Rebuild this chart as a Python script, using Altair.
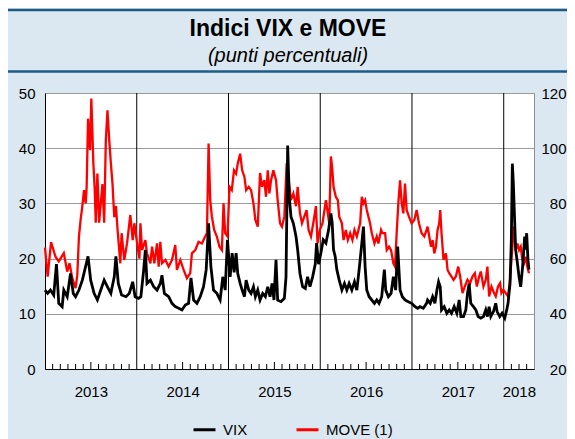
import altair as alt
import pandas as pd

# ---- data (decimal years, index values) ----
vix_t = [
    2013.000, 2013.029, 2013.059, 2013.095, 2013.125, 2013.150, 2013.187, 2013.205, 2013.242, 2013.278,
    2013.308, 2013.333, 2013.370, 2013.407, 2013.443, 2013.469, 2013.498, 2013.535, 2013.571, 2013.608,
    2013.645, 2013.681, 2013.718, 2013.755, 2013.773, 2013.799, 2013.835, 2013.883, 2013.919, 2013.956,
    2013.982,
    2014.020, 2014.045, 2014.076, 2014.094, 2014.112, 2014.149, 2014.185, 2014.221, 2014.257, 2014.275,
    2014.301, 2014.348, 2014.384, 2014.420, 2014.457, 2014.493, 2014.529, 2014.565, 2014.591, 2014.620,
    2014.656, 2014.692, 2014.728, 2014.757, 2014.783, 2014.808, 2014.837, 2014.873, 2014.909, 2014.938,
    2014.964, 2014.989,
    2015.018, 2015.040, 2015.062, 2015.083, 2015.101, 2015.127, 2015.149, 2015.174, 2015.192, 2015.221,
    2015.246, 2015.272, 2015.293, 2015.319, 2015.344, 2015.373, 2015.402, 2015.428, 2015.453, 2015.475,
    2015.496, 2015.518, 2015.536, 2015.572, 2015.609, 2015.627, 2015.645, 2015.663, 2015.681, 2015.707,
    2015.736, 2015.754, 2015.779, 2015.808, 2015.837, 2015.862, 2015.888, 2015.917, 2015.946, 2015.960,
    2015.982,
    2016.007, 2016.033, 2016.062, 2016.091, 2016.116, 2016.130, 2016.145, 2016.163, 2016.181, 2016.207,
    2016.236, 2016.264, 2016.290, 2016.315, 2016.344, 2016.373, 2016.399, 2016.424, 2016.446, 2016.471,
    2016.489, 2016.507, 2016.533, 2016.562, 2016.591, 2016.616, 2016.641, 2016.670, 2016.699, 2016.714,
    2016.743, 2016.772, 2016.797, 2016.822, 2016.844, 2016.870, 2016.895, 2016.924, 2016.960, 2016.996,
    2017.033, 2017.062, 2017.087, 2017.123, 2017.159, 2017.170, 2017.199, 2017.225, 2017.250, 2017.272,
    2017.290, 2017.308, 2017.322, 2017.351, 2017.380, 2017.406, 2017.431, 2017.460, 2017.489, 2017.514,
    2017.533, 2017.562, 2017.587, 2017.605, 2017.623, 2017.641, 2017.670, 2017.696, 2017.721, 2017.750,
    2017.779, 2017.804, 2017.822, 2017.841, 2017.859, 2017.888, 2017.913, 2017.928, 2017.957, 2017.982,
    2018.011, 2018.033, 2018.047, 2018.069, 2018.083, 2018.094, 2018.105, 2018.120, 2018.130, 2018.149,
    2018.167, 2018.185, 2018.203, 2018.214, 2018.228, 2018.239, 2018.250, 2018.264, 2018.275,
]
vix_v = [
    14.3, 13.7, 14.3, 13.4, 19.0, 11.9, 11.3, 14.3, 13.1, 17.3,
    13.7, 13.1, 14.3, 16.1, 18.6, 20.4, 16.1, 13.7, 12.5, 14.3,
    16.1, 14.9, 13.7, 16.7, 20.4, 15.5, 13.4, 13.1, 13.7, 15.8,
    13.1,
    12.8, 13.1, 18.0, 21.6, 15.5, 16.1, 14.9, 14.3, 15.5, 17.0,
    13.7, 13.1, 11.9, 11.3, 11.0, 10.7, 11.6, 11.9, 16.5, 12.5,
    11.9, 13.1, 14.9, 18.0, 26.4, 18.6, 14.3, 13.7, 12.5, 16.7,
    14.3, 23.4,
    16.7, 21.0, 17.5, 21.0, 17.3, 15.5, 14.3, 13.1, 16.1, 14.3,
    13.7, 14.9, 13.1, 14.3, 12.5, 13.7, 13.1, 14.9, 13.1, 15.5,
    12.5, 19.8, 12.5, 12.2, 12.8, 16.7, 40.5, 31.0, 27.6, 26.4,
    24.0, 21.6, 17.3, 14.9, 14.6, 16.7, 14.9, 16.7, 19.0, 22.8,
    19.0,
    21.0, 23.4, 22.8, 25.2, 28.2, 26.5, 21.6, 20.4, 18.0, 16.1,
    14.3, 15.5, 14.3, 15.5, 14.3, 15.8, 14.3, 18.0, 21.6, 25.8,
    18.6, 14.3, 13.1, 12.5, 11.9, 12.5, 11.9, 13.1, 18.0, 14.3,
    13.1, 13.7, 16.7, 14.3, 22.2, 14.3, 13.1, 12.5, 12.2, 11.9,
    11.3, 11.0, 11.3, 11.0, 11.9, 12.5, 11.9, 13.1, 11.9, 14.3,
    15.8, 14.9, 10.7, 11.3, 10.1, 10.7, 10.1, 11.3, 10.1, 12.5,
    9.5, 9.5, 10.7, 13.7, 15.5, 11.9, 11.3, 10.7, 9.5, 9.2,
    9.5, 10.7, 9.5, 11.3, 9.5, 10.4, 11.9, 10.4, 9.5, 10.1,
    9.2, 10.7, 11.9, 15.5, 23.4, 37.2, 33.6, 26.4, 21.6, 19.2,
    16.7, 14.9, 18.0, 20.4, 24.0, 21.6, 24.6, 19.8, 18.0,
]

move_t = [
    2013.000, 2013.029, 2013.066, 2013.114, 2013.150, 2013.205, 2013.242, 2013.267, 2013.297, 2013.333,
    2013.352, 2013.370, 2013.388, 2013.407, 2013.425, 2013.443, 2013.454, 2013.469, 2013.491, 2013.505,
    2013.527, 2013.542, 2013.553, 2013.571, 2013.590, 2013.608, 2013.626, 2013.645, 2013.663, 2013.681,
    2013.700, 2013.718, 2013.736, 2013.755, 2013.773, 2013.791, 2013.821, 2013.835, 2013.864, 2013.894,
    2013.930, 2013.956, 2013.974,
    2014.004, 2014.029, 2014.040, 2014.058, 2014.094, 2014.112, 2014.149, 2014.167, 2014.192, 2014.221,
    2014.239, 2014.257, 2014.275, 2014.312, 2014.348, 2014.384, 2014.420, 2014.438, 2014.475, 2014.511,
    2014.547, 2014.583, 2014.601, 2014.638, 2014.674, 2014.710, 2014.746, 2014.765, 2014.783, 2014.801,
    2014.819, 2014.844, 2014.873, 2014.902, 2014.928, 2014.946, 2014.964, 2014.989,
    2015.011, 2015.036, 2015.060, 2015.083, 2015.101, 2015.127, 2015.149, 2015.174, 2015.192, 2015.221,
    2015.246, 2015.272, 2015.293, 2015.319, 2015.344, 2015.366, 2015.391, 2015.409, 2015.428, 2015.446,
    2015.464, 2015.489, 2015.518, 2015.536, 2015.562, 2015.583, 2015.609, 2015.634, 2015.656, 2015.681,
    2015.707, 2015.736, 2015.754, 2015.779, 2015.801, 2015.826, 2015.851, 2015.873, 2015.899, 2015.924,
    2015.953, 2015.971, 2015.996,
    2016.025, 2016.062, 2016.098, 2016.116, 2016.130, 2016.145, 2016.170, 2016.192, 2016.207, 2016.236,
    2016.254, 2016.279, 2016.301, 2016.326, 2016.351, 2016.373, 2016.399, 2016.417, 2016.435, 2016.453,
    2016.471, 2016.489, 2016.507, 2016.525, 2016.543, 2016.562, 2016.591, 2016.616, 2016.634, 2016.663,
    2016.678, 2016.707, 2016.725, 2016.750, 2016.772, 2016.797, 2016.815, 2016.833, 2016.851, 2016.870,
    2016.888, 2016.906, 2016.924, 2016.942, 2016.967, 2016.996,
    2017.025, 2017.051, 2017.076, 2017.105, 2017.134, 2017.159, 2017.170, 2017.188, 2017.207, 2017.225,
    2017.243, 2017.261, 2017.279, 2017.297, 2017.308, 2017.322, 2017.344, 2017.370, 2017.388, 2017.406,
    2017.431, 2017.453, 2017.478, 2017.504, 2017.525, 2017.551, 2017.576, 2017.605, 2017.634, 2017.659,
    2017.685, 2017.707, 2017.732, 2017.750, 2017.779, 2017.804, 2017.822, 2017.841, 2017.866, 2017.895,
    2017.913, 2017.938, 2017.960, 2017.975, 2017.996,
    2018.022, 2018.047, 2018.069, 2018.094, 2018.112, 2018.130, 2018.149, 2018.167, 2018.185, 2018.203,
    2018.221, 2018.239, 2018.257, 2018.275,
]
move_v = [
    64.0, 53.5, 66.0, 60.7, 59.0, 62.0, 55.3, 58.3, 53.0, 49.3,
    54.0, 68.0, 74.0, 79.0, 84.8, 80.0, 86.0, 110.7, 99.3, 118.0,
    94.5, 85.0, 73.0, 90.8, 73.0, 80.0, 87.0, 73.0, 103.0, 113.7,
    103.0, 94.5, 87.0, 75.0, 79.0, 70.4, 58.3, 69.2, 59.5, 65.5,
    75.8, 66.7, 72.8,
    65.5, 60.0, 72.8, 63.1, 66.7, 61.9, 58.3, 64.3, 58.3, 65.5,
    57.1, 66.1, 58.3, 59.5, 57.1, 59.5, 64.9, 55.9, 59.5, 55.9,
    52.9, 54.7, 61.9, 63.1, 66.1, 65.5, 68.0, 69.2, 101.7, 81.2,
    75.2, 70.4, 68.0, 64.3, 63.1, 80.0, 69.2, 68.0,
    86.0, 84.8, 92.0, 90.8, 94.5, 98.0, 92.0, 89.6, 84.8, 86.0,
    84.8, 80.0, 74.0, 71.6, 91.0, 86.0, 88.4, 82.4, 92.0, 83.6,
    88.4, 92.0, 88.4, 81.2, 72.8, 71.6, 75.2, 94.5, 88.4, 81.2,
    83.6, 79.0, 86.0, 76.4, 72.8, 75.2, 77.6, 70.4, 68.0, 72.8,
    79.0, 65.5, 70.4,
    72.8, 81.2, 72.8, 97.0, 93.0, 86.0, 82.4, 81.2, 75.2, 72.8,
    66.7, 70.4, 66.7, 69.2, 66.7, 70.4, 68.0, 70.4, 72.8, 82.4,
    80.0, 81.2, 77.6, 75.2, 72.8, 69.2, 65.5, 68.0, 65.5, 70.4,
    69.2, 69.2, 63.1, 64.3, 63.1, 58.3, 57.1, 69.2, 80.0, 88.4,
    80.0, 76.4, 87.2, 77.6, 75.2, 72.8,
    74.0, 77.6, 72.8, 69.2, 68.0, 70.4, 71.6, 68.0, 64.3, 66.7,
    61.9, 64.3, 70.4, 72.8, 77.6, 69.2, 59.5, 61.9, 55.9, 54.7,
    53.5, 52.3, 53.5, 57.1, 53.5, 47.5, 49.9, 52.3, 51.1, 53.5,
    54.7, 49.9, 53.5, 55.3, 49.9, 52.3, 57.1, 46.3, 49.9, 47.5,
    46.3, 49.9, 51.1, 47.5, 48.7,
    47.5, 46.3, 52.3, 64.3, 71.6, 63.1, 65.5, 63.1, 64.3, 59.5,
    58.3, 60.7, 57.1, 54.7,
]

series = ["VIX", "MOVE (1)"]
colors = ["#000000", "#ff0000"]
year_lines = [2014, 2015, 2016, 2017, 2018]
year_label_at = [2013.5, 2014.5, 2015.5, 2016.5, 2017.5, 2018.165]
left_ticks = [0, 10, 20, 30, 40, 50]
right_ticks = [20, 40, 60, 80, 100, 120]
x_start, x_end = 2013.0, 2018.33
title_text = "Indici VIX e MOVE"
subtitle_text = "(punti percentuali)"

assert len(vix_t) == len(vix_v), (len(vix_t), len(vix_v))
assert len(move_t) == len(move_v), (len(move_t), len(move_v))

W, H = 489, 276
FONT = "Liberation Sans"
BLUE = "#1d5b86"

vix_df = pd.DataFrame({"t": vix_t, "v": vix_v, "serie": series[0]})
move_df = pd.DataFrame({"t": move_t, "v": move_v, "serie": series[1]})
month_k = [k for k in range(1, 64) if k % 12 != 0]
short_df = pd.DataFrame({"t": [x_start + k / 12 for k in month_k if k % 12 != 6]})
long_df = pd.DataFrame({"t": [x_start + k / 12 for k in month_k if k % 12 == 6]})
one = pd.DataFrame({"d": [0]})

x_axis = alt.Axis(
    values=year_label_at, labelExpr="'' + floor(datum.value)", ticks=False, grid=False,
    domainColor="black", domainWidth=1, labelFontSize=15, labelFont=FONT, labelColor="black",
    labelPadding=15, title=None, labelFlush=False, labelOverlap=False,
)
x_enc = alt.X("t:Q", scale=alt.Scale(domain=[x_start, x_end], nice=False, zero=False), axis=x_axis)

color_enc = alt.Color(
    "serie:N",
    scale=alt.Scale(domain=series, range=colors),
    legend=alt.Legend(
        title=None, orient="none", legendX=147, legendY=324, direction="horizontal",
        symbolType="stroke", symbolStrokeWidth=3, symbolSize=484, labelFontSize=15,
        labelFont=FONT, labelColor="black", labelOffset=6, columnPadding=42, padding=0,
    ),
)

deco_low = alt.Chart(one).mark_rule(color=BLUE, strokeWidth=2.5).encode(
    x=alt.value(-37), x2=alt.value(522), y=alt.value(-21.5))
deco_top = alt.Chart(one).mark_rule(color=BLUE, strokeWidth=2.5).encode(
    x=alt.value(-37), x2=alt.value(522), y=alt.value(-83))
title_mark = alt.Chart(one).mark_text(
    font=FONT, fontSize=23, fontWeight="bold", color="black", align="center", baseline="alphabetic"
).encode(x=alt.value(W / 2 - 1.5), y=alt.value(-57), text=alt.value(title_text))
subtitle_mark = alt.Chart(one).mark_text(
    font=FONT, fontSize=20, fontStyle="italic", color="black", align="center", baseline="alphabetic"
).encode(x=alt.value(W / 2 - 1.5), y=alt.value(-31), text=alt.value(subtitle_text))

years = alt.Chart(pd.DataFrame({"t": year_lines})).mark_rule(color="black", strokeWidth=1).encode(x=x_enc)
ticks_s = alt.Chart(short_df).mark_rule(color="black", strokeWidth=1).encode(
    x=x_enc, y=alt.value(H), y2=alt.value(H - 5))
ticks_l = alt.Chart(long_df).mark_rule(color="black", strokeWidth=1).encode(
    x=x_enc, y=alt.value(H), y2=alt.value(H - 7))

move_line = alt.Chart(move_df).mark_line(strokeWidth=2.3).encode(
    x=x_enc,
    y=alt.Y("v:Q", scale=alt.Scale(domain=[20, 120], nice=False, zero=False),
            axis=alt.Axis(orient="right", values=right_ticks, grid=False, ticks=False, domain=False,
                          labelAlign="right", labelPadding=32, labelFontSize=15, labelFont=FONT,
                          labelColor="black", title=None)),
    color=color_enc,
)
vix_line = alt.Chart(vix_df).mark_line(strokeWidth=2.8).encode(
    x=x_enc,
    y=alt.Y("v:Q", scale=alt.Scale(domain=[0, 50], nice=False),
            axis=alt.Axis(orient="left", values=left_ticks, grid=True, ticks=False, domain=True,
                          domainColor="black", labelPadding=10, labelFontSize=15, labelFont=FONT,
                          labelColor="black", title=None, gridColor="#9b9b9b", gridWidth=1)),
    color=color_enc,
)

chart = alt.layer(
    deco_low, deco_top, title_mark, subtitle_mark, years, ticks_s, ticks_l, move_line, vix_line
).resolve_scale(
    y="independent"
).properties(
    width=W, height=H,
    autosize=alt.AutoSizeParams(type="none"),
    padding={"left": 37, "top": 85, "right": 33, "bottom": 72},
    background="#dce8f1",
).configure_view(fill="white", stroke="#8f8f8f", strokeWidth=1)

chart.save("out.html", embed_options={"renderer": "svg", "actions": False})
